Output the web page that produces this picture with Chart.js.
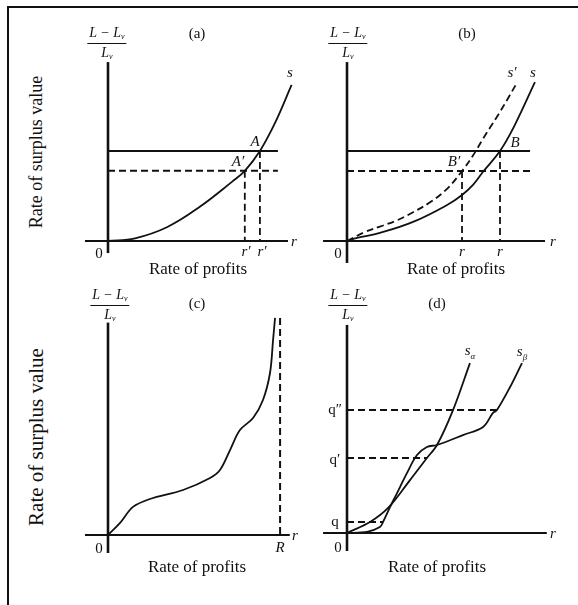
<!DOCTYPE html>
<html>
<head>
<meta charset="utf-8">
<script src="https://cdn.jsdelivr.net/npm/chart.js@4/dist/chart.umd.min.js"></script>
<style>
  html, body { margin: 0; padding: 0; background: #fff; }
  #page { position: relative; width: 578px; height: 605px; overflow: hidden; font-family: "Liberation Serif", "DejaVu Serif", serif; color: #111; }
  #frame { position: absolute; left: 7px; top: 6px; width: 580px; height: 620px; border-top: 2px solid #111; border-left: 2px solid #111; }
  canvas { position: absolute; }
  .t { position: absolute; transform: translate(-50%, -50%); white-space: nowrap; line-height: 1; }
  .it { font-style: italic; }
  .axis-title { font-size: 17px; }
  .side { position: absolute; transform: translate(-50%, -50%) rotate(-90deg); white-space: nowrap; font-size: 18px; line-height: 1; }
  .frac { position: absolute; transform: translateX(-50%); text-align: center; font-style: italic; font-size: 14px; line-height: 1; }
  .frac .num { padding: 0 2px 2px 2px; border-bottom: 1px solid #111; }
  .frac .den { padding-top: 2px; }
  .frac sub { font-size: 8px; vertical-align: -2px; }
  .panel { font-size: 15px; }
</style>
</head>
<body>
<div id="page">
  <div id="frame"></div>
  <canvas id="chart-a"></canvas>
  <canvas id="chart-b"></canvas>
  <canvas id="chart-c"></canvas>
  <canvas id="chart-d"></canvas>
  <div id="labels"></div>
</div>
<script>
// ---- data (rate of profits r on x, rate of surplus value on y) ----

// panel (a): one curve s, old and new wage levels
const aRate    = [0, 1.5, 3.3, 5.1, 6.9, 7.6, 8.44, 9.3, 10.2];
const aSurplus = [0, 0.15, 0.78, 1.9, 3.3, 3.9, 5.0, 6.6, 8.67];
const aLevels  = [5.0, 3.9];      // A, A'
const aProfits = [8.44, 7.6];     // r' at A, r' at A'
const aLineEnd = 9.44;

// panel (b): curve s (solid) and shifted curve s' (dashed)
const bRate     = [0, 0.56, 1.83, 3.67, 5.56, 6.39, 7.0, 7.56, 8.5, 9.3, 10.44];
const bSurplus  = [0, 0.17, 0.45, 1.06, 2.0, 2.56, 3.12, 3.85, 5.0, 6.4, 8.83];
const bRate2    = [0, 1.0, 1.83, 2.78, 3.67, 4.61, 5.56, 6.39, 7.0, 7.6, 8.3, 8.9, 9.45];
const bSurplus2 = [0, 0.5, 0.8, 1.15, 1.6, 2.15, 2.9, 3.89, 4.75, 5.75, 6.85, 7.85, 8.8];
const bLevels   = [5.0, 3.89];    // B, B'
const bProfits  = [8.5, 6.39];
const bLineEnd  = 10.17;

// panel (c): curve with asymptote at R
const cRate    = [0, 0.67, 1.39, 2.33, 4.17, 5.67, 6.22, 6.78, 7.33, 8.06, 8.61, 9.0, 9.17, 9.28];
const cSurplus = [0, 0.67, 1.56, 2.0, 2.5, 3.17, 3.61, 4.72, 5.83, 6.5, 7.5, 9.0, 10.83, 12.06];
const cMaxRate = 9.56;            // R
const cMaxTop  = 12.06;

// panel (d): two curves s_alpha and s_beta
const dAlphaRate    = [0, 1.28, 2.28, 3.5, 4.44, 5.0, 5.89, 6.83];
const dAlphaSurplus = [0, 0.61, 1.39, 2.94, 4.17, 4.89, 6.83, 9.44];
const dBetaRate     = [0, 1.11, 1.83, 2.0, 2.39, 2.78, 3.33, 3.89, 4.44, 5.0, 6.44, 7.56, 8.11, 8.33, 9.06, 9.72];
const dBetaSurplus  = [0, 0.06, 0.33, 0.61, 1.44, 2.22, 3.33, 4.33, 4.78, 4.89, 5.44, 5.89, 6.67, 6.83, 8.11, 9.44];
const dLevels   = [0.61, 4.17, 6.83];   // q, q', q''
const dLevelEnd = [2.0, 4.44, 8.33];

// ---- helpers ----
const INK = '#111';
const UNIT = 18; // px per unit on every panel

function pts(xs, ys) { return xs.map((x, i) => ({ x: x, y: ys[i] })); }

function line(data, opts) {
  opts = opts || {};
  return Object.assign({
    data: data,
    showLine: true,
    borderColor: INK,
    borderWidth: 2,
    pointRadius: 0,
    fill: false,
    tension: 0,
    clip: false
  }, opts);
}
const DASH = [7, 4];

function axes(xMin, xMax, yMin, yMax) {
  return [
    line([{ x: xMin, y: 0 }, { x: xMax, y: 0 }], { borderWidth: 2.2 }),
    line([{ x: 0, y: yMin }, { x: 0, y: yMax }], { borderWidth: 2.6 })
  ];
}

// build a chart whose plot area covers the canvas, origin at (ox, oy) on the page
function makeChart(id, box, datasets) {
  const canvas = document.getElementById(id);
  canvas.style.left = box.left + 'px';
  canvas.style.top = box.top + 'px';
  canvas.style.width = box.width + 'px';
  canvas.style.height = box.height + 'px';
  canvas.width = box.width;
  canvas.height = box.height;
  return new Chart(canvas.getContext('2d'), {
    type: 'scatter',
    data: { datasets: datasets },
    options: {
      responsive: false,
      animation: false,
      events: [],
      layout: { padding: 0 },
      plugins: { legend: { display: false }, tooltip: { enabled: false } },
      scales: {
        x: { type: 'linear', display: false,
             min: (box.left - box.ox) / UNIT, max: (box.left + box.width - box.ox) / UNIT },
        y: { type: 'linear', display: false,
             min: (box.oy - box.top - box.height) / UNIT, max: (box.oy - box.top) / UNIT }
      }
    }
  });
}

// ---- panel (a) ----
const aSets = axes(-1.28, 10, -0.67, 9.94);
aSets.push(line(pts(aRate, aSurplus), { tension: 0.4, borderWidth: 1.8 }));
aSets.push(line([{ x: 0, y: aLevels[0] }, { x: aLineEnd, y: aLevels[0] }]));
aSets.push(line([{ x: 0, y: aLevels[1] }, { x: aLineEnd, y: aLevels[1] }], { borderDash: DASH }));
aProfits.forEach((r, i) => aSets.push(line([{ x: r, y: aLevels[i] }, { x: r, y: 0 }], { borderDash: DASH, borderWidth: 1.8 })));
makeChart('chart-a', { left: 70, top: 55, width: 235, height: 215, ox: 108, oy: 241 }, aSets);

// ---- panel (b) ----
const bSets = axes(-1.33, 11, -1.22, 9.94);
bSets.push(line(pts(bRate, bSurplus), { tension: 0.4, borderWidth: 1.8 }));
bSets.push(line(pts(bRate2, bSurplus2), { tension: 0.4, borderWidth: 1.8, borderDash: DASH }));
bSets.push(line([{ x: 0, y: bLevels[0] }, { x: bLineEnd, y: bLevels[0] }]));
bSets.push(line([{ x: 0, y: bLevels[1] }, { x: bLineEnd, y: bLevels[1] }], { borderDash: DASH }));
bProfits.forEach((r, i) => bSets.push(line([{ x: r, y: bLevels[i] }, { x: r, y: 0 }], { borderDash: DASH, borderWidth: 1.8 })));
makeChart('chart-b', { left: 310, top: 55, width: 260, height: 215, ox: 347, oy: 241 }, bSets);

// ---- panel (c) ----
const cSets = axes(-1.28, 10.1, -1.0, 11.8);
cSets.push(line(pts(cRate, cSurplus), { tension: 0.35, borderWidth: 1.8 }));
cSets.push(line([{ x: cMaxRate, y: cMaxTop }, { x: cMaxRate, y: 0 }], { borderDash: DASH }));
makeChart('chart-c', { left: 70, top: 310, width: 235, height: 250, ox: 108, oy: 535 }, cSets);

// ---- panel (d) ----
const dSets = axes(-1.33, 11.1, -1.0, 11.56);
dSets.push(line(pts(dAlphaRate, dAlphaSurplus), { tension: 0.35, borderWidth: 1.8 }));
dSets.push(line(pts(dBetaRate, dBetaSurplus), { tension: 0.35, borderWidth: 1.8 }));
dLevels.forEach((q, i) => dSets.push(line([{ x: 0, y: q }, { x: dLevelEnd[i], y: q }], { borderDash: DASH })));
makeChart('chart-d', { left: 310, top: 310, width: 260, height: 250, ox: 347, oy: 533 }, dSets);

// ---- text ----
const labels = document.getElementById('labels');
function text(html, x, y, cls) {
  const el = document.createElement('div');
  el.className = 't ' + (cls || '');
  el.style.left = x + 'px';
  el.style.top = y + 'px';
  el.innerHTML = html;
  labels.appendChild(el);
}
function fraction(x, y) {
  const el = document.createElement('div');
  el.className = 'frac';
  el.style.left = x + 'px';
  el.style.top = y + 'px';
  el.innerHTML = '<div class="num">L &minus; L<sub>v</sub></div><div class="den">L<sub>v</sub></div>';
  labels.appendChild(el);
}
function side(str, x, y, size) {
  const el = document.createElement('div');
  el.className = 'side';
  el.style.left = x + 'px';
  el.style.top = y + 'px';
  el.style.fontSize = size + 'px';
  el.textContent = str;
  labels.appendChild(el);
}

side('Rate of surplus value', 36, 152, 18);
side('Rate of surplus value', 36, 437, 21);

// (a)
fraction(107, 26);
text('(a)', 197, 33, 'panel');
text('s', 290, 72, 'it panel');
text('A', 255, 141, 'it panel');
text('A&prime;', 238, 161, 'it panel');
text('r&prime;', 246, 251, 'it panel');
text('r&prime;', 262, 251, 'it panel');
text('0', 99, 253, 'panel');
text('r', 294, 241, 'it panel');
text('Rate of profits', 198, 268, 'axis-title');

// (b)
fraction(348, 26);
text('(b)', 467, 33, 'panel');
text('s&prime;', 512, 72, 'it panel');
text('s', 533, 72, 'it panel');
text('B', 515, 142, 'it panel');
text('B&prime;', 454, 161, 'it panel');
text('r', 462, 251, 'it panel');
text('r', 500, 251, 'it panel');
text('0', 338, 253, 'panel');
text('r', 553, 241, 'it panel');
text('Rate of profits', 456, 268, 'axis-title');

// (c)
fraction(110, 288);
text('(c)', 197, 303, 'panel');
text('0', 99, 548, 'panel');
text('R', 280, 547, 'it panel');
text('r', 295, 535, 'it panel');
text('Rate of profits', 197, 566, 'axis-title');

// (d)
fraction(348, 288);
text('(d)', 437, 303, 'panel');
text('q&Prime;', 335, 409, 'panel');
text('q&prime;', 335, 459, 'panel');
text('q', 335, 521, 'panel');
text('0', 338, 547, 'panel');
text('r', 553, 533, 'it panel');
text('s<sub style="font-size:9px">&alpha;</sub>', 470, 352, 'it panel');
text('s<sub style="font-size:9px">&beta;</sub>', 522, 353, 'it panel');
text('Rate of profits', 437, 566, 'axis-title');
</script>
</body>
</html>
